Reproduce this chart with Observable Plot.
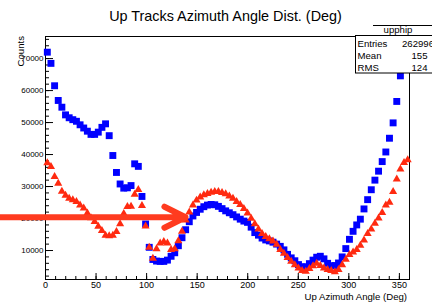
<!DOCTYPE html>
<html><head><meta charset="utf-8">
<script src="https://cdn.jsdelivr.net/npm/d3@7"></script>
<script src="https://cdn.jsdelivr.net/npm/@observablehq/plot@0.6"></script>
<style>
body{margin:0;background:#fff;}
svg{font-family:"Liberation Sans",Arial,Helvetica,sans-serif;}
</style>
</head><body><div id="chart"></div>
<script>
// 100 bins of 3.6 degrees over 0..360
const binWidth = 3.6;
const blueCounts = [
72000,68500,61500,56900,54800,52400,51500,50900,50400,49300,
48300,47300,46300,46300,47000,48500,49600,45900,39700,34400,
30800,29500,29600,30300,37100,36300,26900,18300,11000,7200,
6700,6600,6600,7000,8200,9300,11500,14000,16500,19000,
20800,21900,22900,23700,24200,24400,24300,23800,23100,22400,
21800,21200,20500,19800,19200,18800,17300,15600,14800,13900,
13300,13000,12600,12000,11300,10200,8800,7700,6800,5600,
4900,4900,5900,7000,7900,8200,7400,6000,5200,5300,
6100,8000,10600,13500,16000,18000,19800,23000,25900,29000,
32000,34800,37800,40800,45100,49900,56600,64600,70500,74000];
const redCounts = [
37400,36200,33100,31000,28500,27200,26300,25800,25300,24200,
23200,21700,20200,19000,17500,16200,14700,14600,14700,15900,
18300,21500,23700,23800,27500,29000,24000,17600,11000,7500,
10500,12300,12800,12300,10300,10500,13000,16000,19500,22000,
24200,25700,26700,27400,27800,28200,28400,28400,28100,27700,
27000,26300,25300,24300,23100,21700,20000,18300,16700,15300,
14300,13600,12900,11900,10300,9100,7800,6600,5500,4500,
3700,3500,4300,5200,6000,5300,4500,4000,3700,3300,
4000,5500,7200,8700,9500,10300,11600,13200,15300,16700,
18500,20100,21800,24200,25000,28400,32300,35400,37500,38300];
const xMajor = [0,50,100,150,200,250,300,350];
const xMinor = d3.range(0, 361, 10);
const yMajor = [10000,20000,30000,40000,50000,60000,70000];
const yMinor = d3.range(2000, 76001, 2000);
const arrowAnno = [{x1:-44.5, x2:138.5, y:20400}];
const titleText = "Up Tracks Azimuth Angle Dist. (Deg)";
const xTitle = "Up Azimuth Angle (Deg)";
const yTitle = "Counts";
const statsName = "upphip";
const statsLabels = ["Entries","Mean","RMS"];
const statsValues = ["262996","155","124"];

const data = blueCounts.map((b,i)=>({x:(i+0.5)*binWidth, blue:b, red:redCounts[i]}));

const W=432,H=302,mL=45,mR=23,mT=36,mB=23;
const fw=W-mL-mR, fh=H-mT-mB;

const chart = Plot.plot({
  width:W, height:H, marginLeft:mL, marginRight:mR, marginTop:mT, marginBottom:mB,
  style:{background:"white", fontFamily:"Liberation Sans, Arial, sans-serif", overflow:"visible"},
  x:{domain:[0,360]},
  y:{domain:[940,76900]},
  marks:[
    Plot.frame({stroke:"black"}),
    Plot.tickX(xMinor,{x:d=>d, stroke:"black", insetTop:fh-3}),
    Plot.tickX(xMajor,{x:d=>d, stroke:"black", insetTop:fh-6}),
    Plot.tickY(yMinor,{y:d=>d, stroke:"black", insetRight:fw-4}),
    Plot.tickY(yMajor,{y:d=>d, stroke:"black", insetRight:fw-8}),
    Plot.axisX(xMajor,{tickSize:0, tickPadding:2, fontSize:9, label:null, fill:"black"}),
    Plot.axisY(yMajor,{tickSize:0, tickPadding:2, fontSize:8, label:null, tickFormat:d=>String(d), fill:"black"}),
    Plot.dot(data,{x:"x", y:"blue", symbol:"square", r:3.9, fill:"#0000ff"}),
    Plot.dot(data,{x:"x", y:"red", symbol:"triangle", r:3.0, fill:"#ff2a10"}),
    Plot.arrow(arrowAnno,{x1:"x1", x2:"x2", y1:"y", y2:"y", stroke:"#ff3b1f", strokeWidth:6, headLength:5.9, headAngle:53})
  ]
});

const svg = d3.select(chart);
svg.append("text").attr("x",225.5).attr("y",20.5).attr("text-anchor","middle")
  .attr("font-size",14.4).attr("fill","black").text(titleText);
svg.append("text").attr("x",407).attr("y",299.5).attr("text-anchor","end")
  .attr("font-size",9.6).attr("fill","black").text(xTitle);
svg.append("text").attr("transform","translate(24,36) rotate(-90)").attr("text-anchor","end")
  .attr("font-size",9.6).attr("fill","black").text(yTitle);
// stats box
const g = svg.append("g");
g.append("line").attr("x1",373).attr("x2",440).attr("y1",25.5).attr("y2",25.5).attr("stroke","black");
g.append("rect").attr("x",355.5).attr("y",35.5).attr("width",90).attr("height",37.5)
  .attr("fill","white").attr("stroke","black");
g.append("text").attr("x",398).attr("y",33).attr("text-anchor","middle").attr("font-size",9.6).attr("fill","black").text(statsName);
const rowsY=[47,59,70.5];
statsLabels.forEach((l,i)=>{
  g.append("text").attr("x",357.5).attr("y",rowsY[i]).attr("text-anchor","start").attr("font-size",9.6).attr("fill","black").text(l);
});
const valEnd=[434,427.5,427.5];
statsValues.forEach((v,i)=>{
  g.append("text").attr("x",valEnd[i]).attr("y",rowsY[i]).attr("text-anchor","end").attr("font-size",9.6).attr("fill","black").text(v);
});
document.getElementById("chart").appendChild(chart);
</script>
</body></html>
